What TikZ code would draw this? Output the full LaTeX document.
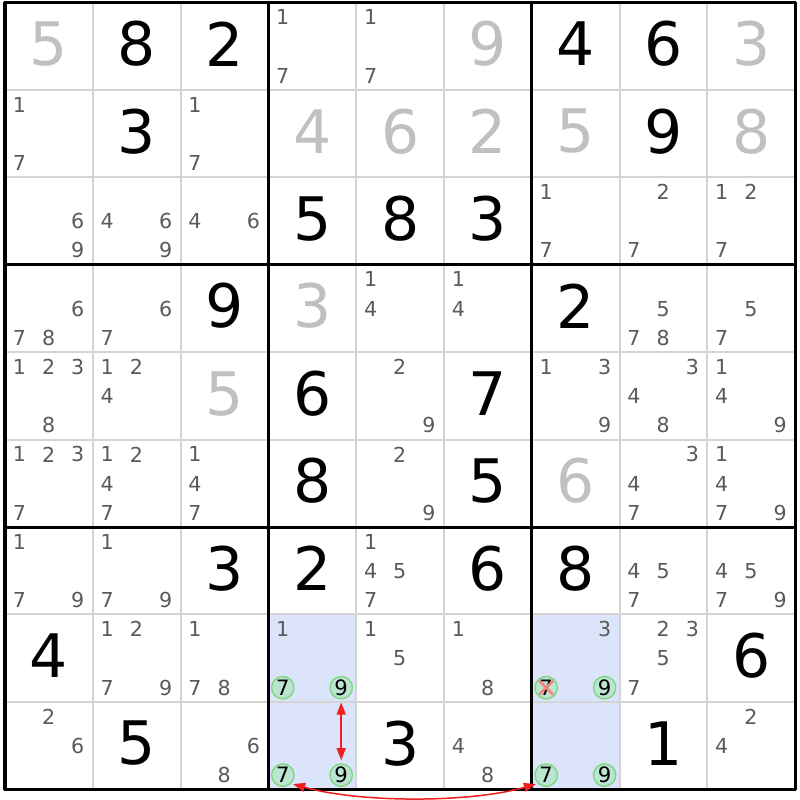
\documentclass[tikz,border=0pt]{standalone}
\usepackage{fontspec}
\setmainfont{DejaVu Sans}
\usetikzlibrary{arrows.meta}
\definecolor{candc}{RGB}{90,90,90}
\definecolor{solvc}{RGB}{192,192,192}
\definecolor{thinc}{RGB}{212,212,212}
\definecolor{hlc}{RGB}{219,228,250}
\definecolor{circfill}{RGB}{188,228,210}
\definecolor{circdraw}{RGB}{125,215,125}
\definecolor{arrc}{RGB}{240,30,30}
\definecolor{xc}{RGB}{245,130,130}
\tikzset{
  big/.style={inner sep=0pt, font=\fontsize{30}{30}\selectfont},
  cand/.style={inner sep=0pt, text=candc, font=\fontsize{10.3}{10}\selectfont},
  circd/.style={circle, inner sep=0pt, minimum size=11.2pt, draw=circdraw, fill=circfill, line width=0.7pt, text=black, font=\fontsize{10.6}{10}\selectfont},
  thinl/.style={draw=thinc, line width=1pt},
  thickl/.style={draw=black, line width=1.5pt},
  redarrow/.style={draw=arrc, line width=0.75pt, {Triangle[length=6pt,width=4.5pt]}-{Triangle[length=6pt,width=4.5pt]}},
  xline/.style={draw=xc, line width=1.3pt}
}
\newcommand\given[4]{\node[big,text=#4] (g#1#2) at ({5+87.8*(#2-1)+43.9},{2.3+87.45*(#1-1)+41.5}) {#3};}
\newcommand\cands[3]{\foreach \d in {#3}{%
  \pgfmathsetmacro\cx{5+87.8*(#2-1)+14.4+29.2*mod(\d-1,3)}%
  \pgfmathsetmacro\cy{2.3+87.45*(#1-1)+14.8+29.2*floor((\d-1)/3)}%
  \node[cand] (k#1#2\d) at (\cx,\cy) {\d};}}
\newcommand\circc[4]{% row col digit name
  \pgfmathsetmacro\cx{5+87.8*(#2-1)+14.4+29.2*mod(#3-1,3)}%
  \pgfmathsetmacro\cy{2.3+87.45*(#1-1)+14.8+29.2*floor((#3-1)/3)}%
  \node[circd] (#4) at (\cx,\cy) {#3};}
\begin{document}
\begin{tikzpicture}[x=0.5pt,y=-0.5pt]
\useasboundingbox (0,0) rectangle (800,800);
\fill[white] (0,0) rectangle (800,800);
% highlighted cells
\fill[hlc] ({5+87.8*3},{2.3+87.45*7}) rectangle ({5+87.8*4},{2.3+87.45*9});
\fill[hlc] ({5+87.8*6},{2.3+87.45*7}) rectangle ({5+87.8*7},{2.3+87.45*9});
% thin grid
\foreach \i in {1,2,4,5,7,8}{
  \draw[thinl] ({5+87.8*\i},2.3) -- ({5+87.8*\i},{2.3+87.45*9});
  \draw[thinl] (5,{2.3+87.45*\i}) -- ({5+87.8*9},{2.3+87.45*\i});
}
\foreach \i in {0,3,6,9}{
  \draw[thickl] ({5+87.8*\i},{2.3-0.75}) -- ({5+87.8*\i},{2.3+87.45*9+0.75});
  \draw[thickl] ({5-0.75},{2.3+87.45*\i}) -- ({5+87.8*9+0.75},{2.3+87.45*\i});
}
% row 1
\given{1}{1}{5}{solvc}\given{1}{2}{8}{black}\given{1}{3}{2}{black}
\cands{1}{4}{1,7}\cands{1}{5}{1,7}\given{1}{6}{9}{solvc}
\given{1}{7}{4}{black}\given{1}{8}{6}{black}\given{1}{9}{3}{solvc}
% row 2
\cands{2}{1}{1,7}\given{2}{2}{3}{black}\cands{2}{3}{1,7}
\given{2}{4}{4}{solvc}\given{2}{5}{6}{solvc}\given{2}{6}{2}{solvc}
\given{2}{7}{5}{solvc}\given{2}{8}{9}{black}\given{2}{9}{8}{solvc}
% row 3
\cands{3}{1}{6,9}\cands{3}{2}{4,6,9}\cands{3}{3}{4,6}
\given{3}{4}{5}{black}\given{3}{5}{8}{black}\given{3}{6}{3}{black}
\cands{3}{7}{1,7}\cands{3}{8}{2,7}\cands{3}{9}{1,2,7}
% row 4
\cands{4}{1}{6,7,8}\cands{4}{2}{6,7}\given{4}{3}{9}{black}
\given{4}{4}{3}{solvc}\cands{4}{5}{1,4}\cands{4}{6}{1,4}
\given{4}{7}{2}{black}\cands{4}{8}{5,7,8}\cands{4}{9}{5,7}
% row 5
\cands{5}{1}{1,2,3,8}\cands{5}{2}{1,2,4}\given{5}{3}{5}{solvc}
\given{5}{4}{6}{black}\cands{5}{5}{2,9}\given{5}{6}{7}{black}
\cands{5}{7}{1,3,9}\cands{5}{8}{3,4,8}\cands{5}{9}{1,4,9}
% row 6
\cands{6}{1}{1,2,3,7}\cands{6}{2}{1,2,4,7}\cands{6}{3}{1,4,7}
\given{6}{4}{8}{black}\cands{6}{5}{2,9}\given{6}{6}{5}{black}
\given{6}{7}{6}{solvc}\cands{6}{8}{3,4,7}\cands{6}{9}{1,4,7,9}
% row 7
\cands{7}{1}{1,7,9}\cands{7}{2}{1,7,9}\given{7}{3}{3}{black}
\given{7}{4}{2}{black}\cands{7}{5}{1,4,5,7}\given{7}{6}{6}{black}
\given{7}{7}{8}{black}\cands{7}{8}{4,5,7}\cands{7}{9}{4,5,7,9}
% row 8
\given{8}{1}{4}{black}\cands{8}{2}{1,2,7,9}\cands{8}{3}{1,7,8}
\cands{8}{4}{1}\circc{8}{4}{7}{a7}\circc{8}{4}{9}{a9}
\cands{8}{5}{1,5}\cands{8}{6}{1,8}
\cands{8}{7}{3}\circc{8}{7}{7}{c7}\circc{8}{7}{9}{c9}
\cands{8}{8}{2,3,5,7}\given{8}{9}{6}{black}
% row 9
\cands{9}{1}{2,6}\given{9}{2}{5}{black}\cands{9}{3}{6,8}
\circc{9}{4}{7}{b7}\circc{9}{4}{9}{b9}
\given{9}{5}{3}{black}\cands{9}{6}{4,8}
\circc{9}{7}{7}{d7}\circc{9}{7}{9}{d9}
\given{9}{8}{1}{black}\cands{9}{9}{2,4}
% cross on eliminated candidate
\draw[xline] ([shift={(-3.5pt,-3.5pt)}]c7.center) -- ([shift={(3.5pt,3.5pt)}]c7.center);
\draw[xline] ([shift={(-3.5pt,3.5pt)}]c7.center) -- ([shift={(3.5pt,-3.5pt)}]c7.center);
% links
\draw[redarrow, shorten <=1.5pt, shorten >=1.5pt] (a9) -- (b9);
\draw[redarrow, shorten <=1pt, shorten >=1pt] (b7.south east) .. controls (360,803) and (470,803) .. (d7.south west);
\end{tikzpicture}
\end{document}
